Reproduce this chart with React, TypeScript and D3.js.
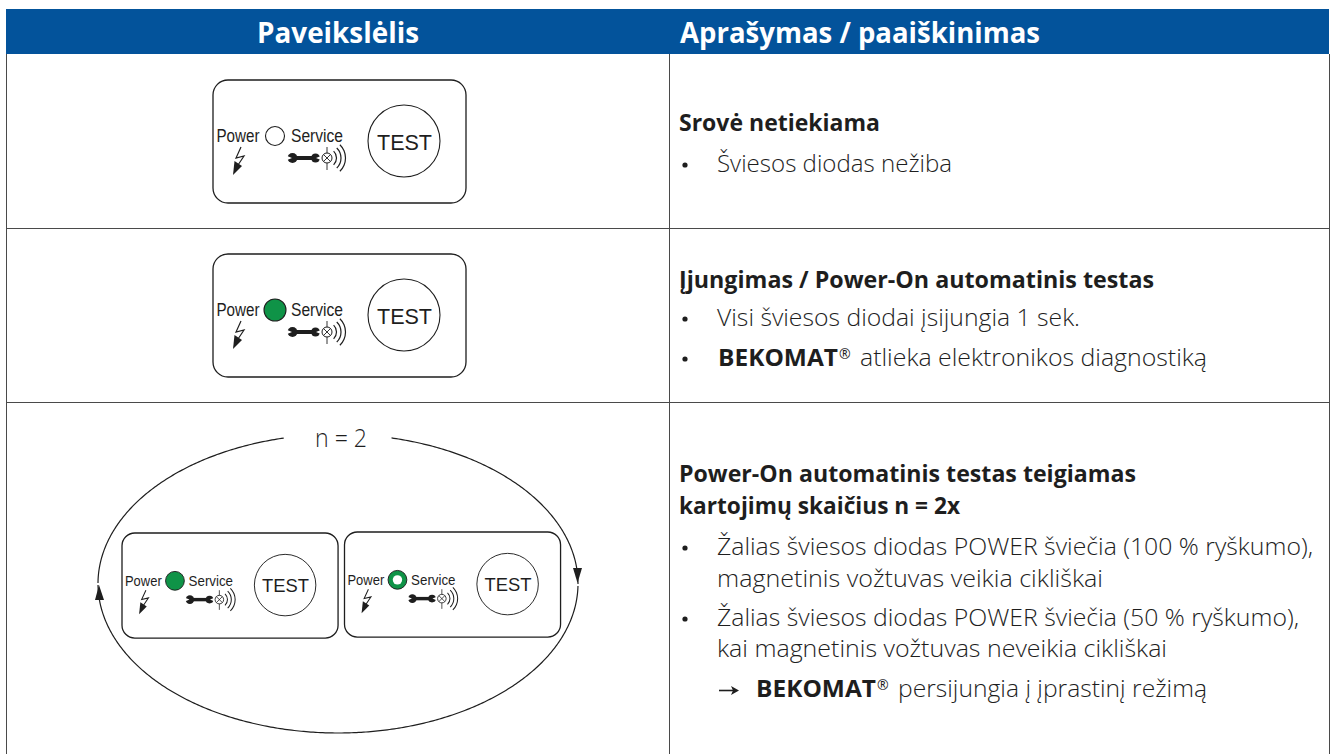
import React from "react";
import * as d3 from "d3";

const headers = ["Paveikslėlis", "Aprašymas / paaiškinimas"];
const row1Title = "Srovė netiekiama";
const row1Item = "Šviesos diodas nežiba";
const row2Title = "Įjungimas / Power-On automatinis testas";
const row2Item = "Visi šviesos diodai įsijungia 1 sek.";
const row2Note = "atlieka elektronikos diagnostiką";
const row3Title = ["Power-On automatinis testas teigiamas", "kartojimų skaičius n = 2x"];
const row3Item1 = ["Žalias šviesos diodas POWER šviečia (100 % ryškumo),", "magnetinis vožtuvas veikia cikliškai"];
const row3Item2 = ["Žalias šviesos diodas POWER šviečia (50 % ryškumo),", "kai magnetinis vožtuvas neveikia cikliškai"];
const row3Note = "persijungia į įprastinį režimą";
const brand = "BEKOMAT";
const panelLabels = ["Power", "Service", "TEST"];
const loopLabel = "n = 2";

const ink = "#1e1e1e";
const blue = "#03539B";
const green = "#0F9347";
const rule = "#4a4a4a";
const sans = "'Liberation Sans', Arial, sans-serif";
const body = "'Open Sans', 'Noto Sans', sans-serif";

const waves = [9.5, 14, 18.5];
const waveArc = d3.arc();

function Panel({ x, y, s = 1, led }: { x: number; y: number; s?: number; led: "off" | "on" | "ring" }) {
  return (
    <g transform={`translate(${x},${y}) scale(${s})`} fontFamily={sans} fill={ink}>
      <rect width={253} height={123} rx={15} fill="#fff" stroke={ink} strokeWidth={1.3 / s} />
      <text x={3.5} y={62} fontSize={18} textLength={43} lengthAdjust="spacingAndGlyphs">{panelLabels[0]}</text>
      <circle cx={62} cy={56} r={led === "off" ? 9.5 : 11} fill={led === "off" ? "#fff" : green} stroke={ink} strokeWidth={1.1} />
      {led === "ring" && <circle cx={62} cy={56} r={5.5} fill="#fff" stroke="none" />}
      <text x={78} y={62} fontSize={18} textLength={52} lengthAdjust="spacingAndGlyphs">{panelLabels[1]}</text>

      <path d="M28 67 L23 78 L31 76 L25 85" fill="none" stroke={ink} strokeWidth={1.2} />
      <path d="M20 95 L21.500 81 L29 86 Z" fill={ink} />

      <path d="M79 78 H103" stroke={ink} strokeWidth={4} />
      <circle cx={79.500} cy={78} r={5} fill={ink} />
      <circle cx={102.500} cy={78} r={4.500} fill={ink} />
      <path d="M73 75.500 L79 78 L73 80.500 Z M109 75.500 L103 78 L109 80.500 Z" fill="#fff" />

      <circle cx={114} cy={78} r={5} fill="none" stroke={ink} strokeWidth={1} />
      <path d="M110.500 74.500 L117.500 81.500 M117.500 74.500 L110.500 81.500 M114 67 L114 73 M114 83 L114 90" stroke={ink} strokeWidth={0.9} fill="none" />
      {waves.map(r => (
        <path key={r} transform="translate(114,78)" fill={ink}
          d={waveArc({ innerRadius: r - 0.6, outerRadius: r + 0.6, startAngle: Math.PI / 2 - 0.8, endAngle: Math.PI / 2 + 0.8 }) as string} />
      ))}

      <circle cx={191} cy={61} r={36} fill="#fff" stroke={ink} strokeWidth={1.1} />
      <text x={164} y={69.500} fontSize={22} textLength={55} lengthAdjust="spacingAndGlyphs">{panelLabels[2]}</text>
    </g>
  );
}

function Line({ x, y, w, bold, children }: { x: number; y: number; w: number; bold?: boolean; children: React.ReactNode }) {
  return <text x={x} y={y} textLength={w} lengthAdjust="spacingAndGlyphs" fontWeight={bold ? 700 : 300}>{children}</text>;
}

function Bullet({ y }: { y: number }) {
  return <circle cx={685} cy={y - 7} r={2.6} fill={ink} />;
}

function Brand({ x, y }: { x: number; y: number }) {
  return (
    <g>
      <Line x={x} y={y} w={120} bold>{brand}</Line>
      <text x={x + 121} y={y - 7} fontSize={14} fontWeight={400}>®</text>
    </g>
  );
}

const ellipse = { cx: 338, cy: 583.6, rx: 240, ry: 149.4 };
const gap = 0.225;
const loopPath = d3.line<number>()
  .x(t => ellipse.cx + ellipse.rx * Math.sin(t))
  .y(t => ellipse.cy - ellipse.ry * Math.cos(t))(d3.range(gap, 2 * Math.PI - gap, 0.01));

export default function App() {
  return (
    <svg width={1330} height={754} style={{ position: "absolute", left: 0, top: 0, background: "#fff" }}>
      <rect x={6} y={9} width={1323} height={45} fill={blue} />
      <g fill="#fff" fontFamily={body} fontSize={29}>
        <Line x={257} y={43} w={162} bold>{headers[0]}</Line>
        <Line x={680} y={43} w={360} bold>{headers[1]}</Line>
      </g>

      <g stroke={rule} strokeWidth={1} fill="none">
        <path d="M6.500 54V754M669.500 54V754M1329.500 54V754" />
        <path d="M6 228.500H1330M6 402.500H1330" />
      </g>

      <Panel x={213} y={80} led="off" />
      <Panel x={213} y={254} led="on" />

      <path d={loopPath as string} fill="none" stroke={ink} strokeWidth={1.2} />
      <rect x={96} y={583} width={5} height={2} fill="#fff" />
      <rect x={575} y={584} width={5} height={2} fill="#fff" />
      <path d="M99 585 L95 600 L104 600 Z" fill={ink} />
      <path d="M577.500 583 L573 568 L582 568 Z" fill={ink} />
      <g fontFamily={body} fontSize={25} fill={ink}>
        <Line x={315} y={447} w={52}>{loopLabel}</Line>
      </g>
      <Panel x={122} y={533} s={0.854} led="on" />
      <Panel x={344.500} y={532} s={0.854} led="ring" />

      <g fontFamily={body} fontSize={23} fill={ink}>
        <Line x={679} y={131} w={201} bold>{row1Title}</Line>
        <Bullet y={172} />
        <Line x={717} y={172} w={235}>{row1Item}</Line>

        <Line x={679} y={288} w={475} bold>{row2Title}</Line>
        <Bullet y={326} />
        <Line x={717} y={326} w={363}>{row2Item}</Line>
        <Bullet y={366} />
        <Brand x={718} y={366} />
        <Line x={860} y={366} w={347}>{row2Note}</Line>

        <Line x={679} y={482} w={457} bold>{row3Title[0]}</Line>
        <Line x={679} y={514} w={281} bold>{row3Title[1]}</Line>
        <Bullet y={555} />
        <Line x={717} y={555} w={596}>{row3Item1[0]}</Line>
        <Line x={717} y={587} w={386}>{row3Item1[1]}</Line>
        <Bullet y={626} />
        <Line x={717} y={626} w={582}>{row3Item2[0]}</Line>
        <Line x={717} y={657} w={450}>{row3Item2[1]}</Line>
        <path d="M719 690.500H733" stroke={ink} strokeWidth={1.6} />
        <path d="M739 690.500L731 686L733 690.500L731 695Z" fill={ink} />
        <Brand x={756} y={697} />
        <Line x={898} y={697} w={309}>{row3Note}</Line>
      </g>
    </svg>
  );
}
